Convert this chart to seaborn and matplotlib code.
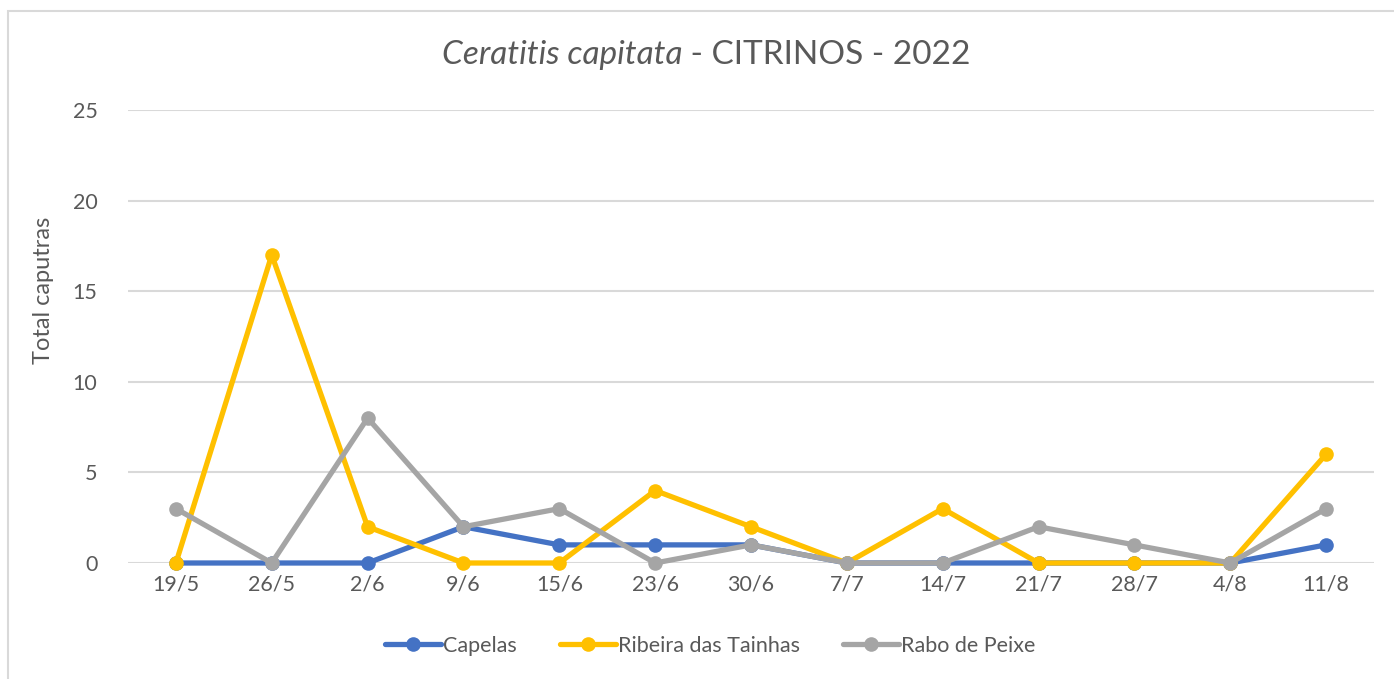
import matplotlib
matplotlib.use("Agg")
import matplotlib.pyplot as plt
from matplotlib.patches import Rectangle
from matplotlib.lines import Line2D
import seaborn as sns
import pandas as pd

dates = ["19/5", "26/5", "2/6", "9/6", "15/6", "23/6", "30/6", "7/7", "14/7", "21/7", "28/7", "4/8", "11/8"]
capelas = [0, 0, 0, 2, 1, 1, 1, 0, 0, 0, 0, 0, 1]
ribeira = [0, 17, 2, 0, 0, 4, 2, 0, 3, 0, 0, 0, 6]
rabo = [3, 0, 8, 2, 3, 0, 1, 0, 0, 2, 1, 0, 3]
series = ["Capelas", "Ribeira das Tainhas", "Rabo de Peixe"]
colors = ["#4472C4", "#FFC000", "#A5A5A5"]

rows = []
for name, vals in zip(series, [capelas, ribeira, rabo]):
    for i, v in enumerate(vals):
        rows.append({"pos": i, "date": dates[i], "val": v, "serie": name})
df = pd.DataFrame(rows)

sns.set_style("white")
plt.rcParams["font.family"] = ["Lato", "DejaVu Sans"]
txt = "#595959"

fig = plt.figure(figsize=(13.94, 6.79), dpi=100)
ax = fig.add_axes([128 / 1394, 1 - 563 / 679, (1374 - 128) / 1394, (563 - 110) / 679])

sns.lineplot(data=df, x="pos", y="val", hue="serie", hue_order=series,
             palette=colors, marker="o", markersize=10.5, markeredgewidth=0,
             linewidth=3.8, ax=ax, legend=False, sort=False, clip_on=False)

ax.set_xlim(-0.5, len(dates) - 0.5)
ax.set_ylim(0, 25)
ax.set_yticks(range(0, 26, 5))
ax.set_xticks(range(len(dates)))
ax.set_xticklabels(dates)
ax.grid(axis="y", color="#D9D9D9", linewidth=1.5)
ax.grid(axis="x", visible=False)
ax.set_axisbelow(True)
for s in ax.spines.values():
    s.set_visible(False)
ax.tick_params(axis="both", length=0, labelsize=15.5, labelcolor=txt)
ax.tick_params(axis="y", pad=22)
ax.tick_params(axis="x", pad=8)
ax.set_xlabel("")
ax.set_ylabel("Total caputras", fontsize=17, color=txt)
ax.yaxis.set_label_coords((54 - 128) / 1246, (563 - 290) / 453)

# chart border (Excel chart area)
fig.patches.append(Rectangle((8 / 1394, -0.2), 1.2, 1.2 - 11 / 679, transform=fig.transFigure,
                             fill=False, edgecolor="#D9D9D9", linewidth=1.5))

# title: italic species name + regular text
fig.canvas.draw()
r = fig.canvas.get_renderer()
ty = 1 - 55 / 679
t1 = fig.text(0, ty, "Ceratitis capitata", style="italic", fontsize=24, color=txt, va="center")
t2 = fig.text(0, ty, " - CITRINOS - 2022", fontsize=24, color=txt, va="center")
w1 = t1.get_window_extent(r).width
w2 = t2.get_window_extent(r).width
x0 = 706 - (w1 + w2) / 2
t1.set_x(x0 / 1394)
t2.set_x((x0 + w1) / 1394)

handles = [Line2D([0], [0], color=c, linewidth=3.8, marker="o", markersize=10.5, markeredgewidth=0)
           for c in colors]
leg = fig.legend(handles, series, loc="center", bbox_to_anchor=(710 / 1394, 1 - 646 / 679),
                 ncol=3, frameon=False, fontsize=15.5, handlelength=2.6, handletextpad=0.1,
                 columnspacing=2.0)
for t in leg.get_texts():
    t.set_color(txt)

fig.savefig("out.png", dpi=100)
